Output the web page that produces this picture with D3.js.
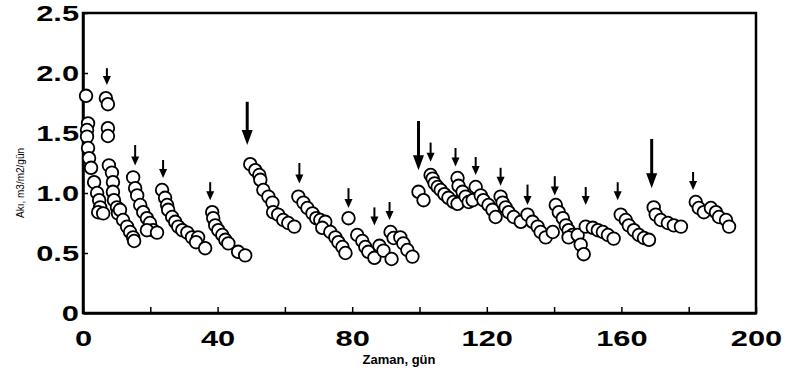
<!DOCTYPE html>
<html>
<head>
<meta charset="utf-8">
<script src="https://cdn.jsdelivr.net/npm/d3@7"></script>
<style>
  body { margin: 0; background: #fff; }
  svg { display: block; }
</style>
</head>
<body>
<div id="vis"></div>
<script>
const FRAME_WIDTH = 789;
const FRAME_HEIGHT = 372;
const MARGINS = {left: 83, right: 33, top: 13, bottom: 59};

// measured points, day vs flux
const days = [
  0.9, 1.5, 1.2, 1.2, 1.5, 1.8, 2.4, 3.3, 4.2, 4.8, 5.1, 4.5, 6.0,
  6.8, 7.4, 7.4, 7.4, 7.7, 8.6, 8.9, 8.9, 9.2, 10.1, 10.4, 11.0, 11.9, 13.1, 14.0, 14.9, 15.2,
  14.9, 15.5, 16.1, 17.0, 17.9, 19.0, 19.9, 20.8, 19.0, 22.0,
  23.5, 24.4, 25.0, 25.3, 26.5, 27.4, 28.3, 29.5, 31.0, 32.4, 34.2, 33.6, 36.3,
  38.4, 38.7, 39.3, 40.2, 41.4, 42.3, 43.2, 46.1, 48.2,
  49.7, 51.2, 52.4, 52.7, 53.6, 55.1, 56.3, 56.5, 58.0, 59.5, 61.0, 62.8,
  64.0, 65.5, 66.7, 68.2, 69.3, 70.5, 72.0, 71.1, 73.5, 75.0, 75.9, 77.1, 78.0,
  78.9, 81.5, 83.0, 83.9, 84.8, 86.6, 88.1, 89.3, 91.7, 91.4, 92.3, 94.3, 95.2, 96.4, 97.9,
  99.7, 101.2,
  103.3, 103.9, 104.5, 105.4, 106.3, 107.4, 108.6, 110.1, 111.3,
  111.3, 111.6, 112.8, 113.7, 114.6, 115.8,
  116.7, 118.2, 119.0, 120.5, 121.7, 122.6,
  124.1, 124.7, 125.6, 126.5, 128.0, 130.1,
  132.1, 133.6, 135.1, 136.0, 137.5, 139.6,
  140.5, 141.4, 142.6, 143.5, 144.3, 145.5, 144.3, 147.0, 147.9, 148.8,
  149.4, 151.5, 153.0, 154.5, 156.0, 157.7,
  159.8, 161.3, 162.2, 163.7, 165.2, 166.7, 168.2,
  169.6, 170.2, 171.7, 173.8, 175.6, 177.7,
  182.1, 183.0, 184.5, 186.6, 188.1, 189.0, 191.1, 192.0
];
const flux = [
  1.81, 1.58, 1.525, 1.47, 1.375, 1.29, 1.21, 1.09, 1.0, 0.94, 0.88, 0.84, 0.83,
  1.79, 1.74, 1.54, 1.475, 1.23, 1.17, 1.09, 1.01, 0.94, 0.88, 0.83, 0.86, 0.775, 0.72, 0.675, 0.63, 0.6,
  1.13, 1.04, 0.98, 0.9, 0.84, 0.79, 0.75, 0.69, 0.69, 0.67,
  1.025, 0.96, 0.9, 0.86, 0.8, 0.76, 0.72, 0.69, 0.67, 0.63, 0.63, 0.59, 0.54,
  0.84, 0.79, 0.73, 0.69, 0.65, 0.61, 0.58, 0.51, 0.48,
  1.24, 1.19, 1.15, 1.11, 1.025, 0.97, 0.92, 0.84, 0.82, 0.775, 0.75, 0.72,
  0.97, 0.92, 0.875, 0.83, 0.79, 0.775, 0.76, 0.71, 0.675, 0.63, 0.59, 0.55, 0.5,
  0.79, 0.65, 0.6, 0.55, 0.51, 0.46, 0.56, 0.52, 0.45, 0.675, 0.625, 0.63, 0.58, 0.525, 0.47,
  1.01, 0.94,
  1.15, 1.12, 1.08, 1.05, 1.025, 0.99, 0.96, 0.925, 0.91,
  1.125, 1.06, 1.01, 0.97, 0.925, 0.94,
  1.05, 0.98, 0.94, 0.9, 0.86, 0.8,
  0.97, 0.92, 0.88, 0.84, 0.8, 0.76,
  0.82, 0.76, 0.72, 0.675, 0.63, 0.675,
  0.9, 0.84, 0.79, 0.73, 0.69, 0.65, 0.63, 0.65, 0.57, 0.49,
  0.72, 0.71, 0.69, 0.675, 0.65, 0.62,
  0.82, 0.775, 0.73, 0.69, 0.65, 0.625, 0.61,
  0.88, 0.82, 0.775, 0.75, 0.73, 0.72,
  0.925, 0.875, 0.84, 0.875, 0.84, 0.8, 0.775, 0.72
];

// cleaning events (arrows): day, flux at arrow tail, flux at arrow tip
const arrowDays = [7.1, 15.5, 23.8, 37.8, 48.8, 64.3, 78.9, 86.6, 91.1, 99.7,
                   103.3, 110.7, 116.7, 124.1, 132.1, 140.2, 149.4, 158.9, 169.0, 181.3];
const arrowTail = [2.04, 1.40, 1.275, 1.09, 1.76, 1.25, 1.04, 0.88, 0.925, 1.60,
                   1.42, 1.375, 1.30, 1.21, 1.07, 1.14, 1.05, 1.09, 1.45, 1.175];
const arrowTip  = [1.90, 1.23, 1.125, 0.94, 1.40, 1.08, 0.875, 0.73, 0.775, 1.19,
                   1.26, 1.22, 1.15, 1.06, 0.90, 0.98, 0.90, 0.94, 1.04, 1.025];
const majorDays = [48.8, 99.7, 169.0];

const xTicks = [0, 20, 40, 60, 80, 100, 120, 140, 160, 180, 200];
const xLabels = [0, 40, 80, 120, 160, 200];
const yTicks = [0, 0.5, 1.0, 1.5, 2.0, 2.5];

const FRAME1 = d3.select("#vis")
  .append("svg")
    .attr("width", FRAME_WIDTH)
    .attr("height", FRAME_HEIGHT);

const X_SCALE = d3.scaleLinear()
  .domain([0, 200])
  .range([MARGINS.left, FRAME_WIDTH - MARGINS.right]);
const Y_SCALE = d3.scaleLinear()
  .domain([0, 2.5])
  .range([FRAME_HEIGHT - MARGINS.bottom, MARGINS.top]);

const STRETCH = 1.4;

// box top and right
FRAME1.append("rect")
  .attr("x", X_SCALE(0))
  .attr("y", Y_SCALE(2.5))
  .attr("width", X_SCALE(200) - X_SCALE(0))
  .attr("height", Y_SCALE(0) - Y_SCALE(2.5))
  .attr("fill", "none")
  .attr("stroke", "#000")
  .attr("stroke-width", 2.5);

// x axis
const xAxis = FRAME1.append("g")
  .attr("transform", "translate(0," + Y_SCALE(0) + ")")
  .call(d3.axisBottom(X_SCALE)
    .tickValues(xTicks)
    .tickSizeInner(-6)
    .tickSizeOuter(0)
    .tickPadding(17)
    .tickFormat(d => xLabels.includes(d) ? d : ""));
xAxis.select(".domain").attr("stroke-width", 2.5);
xAxis.selectAll(".tick line").attr("stroke-width", 1.5);
xAxis.selectAll(".tick text")
  .attr("font-family", "'Liberation Sans', Arial, sans-serif")
  .attr("font-weight", "bold")
  .attr("font-size", 22)
  .attr("transform", "scale(" + STRETCH + ",1)");

// y axis
const yAxis = FRAME1.append("g")
  .attr("transform", "translate(" + X_SCALE(0) + ",0)")
  .call(d3.axisLeft(Y_SCALE)
    .tickValues(yTicks)
    .tickSizeInner(-5)
    .tickSizeOuter(0)
    .tickPadding(4 / STRETCH)
    .tickFormat(d => d === 0 ? "0" : d3.format(".1f")(d)));
yAxis.select(".domain").attr("stroke-width", 2.5);
yAxis.selectAll(".tick line").attr("stroke-width", 1.5);
yAxis.selectAll(".tick text")
  .attr("font-family", "'Liberation Sans', Arial, sans-serif")
  .attr("font-weight", "bold")
  .attr("font-size", 22)
  .attr("transform", "scale(" + STRETCH + ",1)");

// axis titles
FRAME1.append("text")
  .attr("x", 399)
  .attr("y", 364)
  .attr("text-anchor", "middle")
  .attr("font-family", "'Liberation Sans', Arial, sans-serif")
  .attr("font-weight", "bold")
  .attr("font-size", 13)
  .text("Zaman, gün");

FRAME1.append("text")
  .attr("transform", "translate(24,183) rotate(-90)")
  .attr("text-anchor", "middle")
  .attr("font-family", "'Liberation Sans', Arial, sans-serif")
  .attr("font-size", 10)
  .text("Akı, m3/m2/gün");

// arrows
const arrows = arrowDays.map((d, i) => ({day: d, tail: arrowTail[i], tip: arrowTip[i], major: majorDays.includes(d)}));

FRAME1.selectAll(".arrowShaft")
  .data(arrows)
  .enter()
  .append("line")
    .attr("x1", d => X_SCALE(d.day))
    .attr("x2", d => X_SCALE(d.day))
    .attr("y1", d => Y_SCALE(d.tail))
    .attr("y2", d => Y_SCALE(d.tip) - (d.major ? 10 : 6))
    .attr("stroke", "#000")
    .attr("stroke-width", d => d.major ? 3 : 2);

FRAME1.selectAll(".arrowHead")
  .data(arrows)
  .enter()
  .append("path")
    .attr("d", d => {
      const x = X_SCALE(d.day), y = Y_SCALE(d.tip);
      const w = d.major ? 5.5 : 4, h = d.major ? 15 : 9;
      return "M" + (x - w) + "," + (y - h) + "L" + (x + w) + "," + (y - h) + "L" + x + "," + y + "Z";
    })
    .attr("fill", "#000");

// points
FRAME1.selectAll(".point")
  .data(days.map((d, i) => [d, flux[i]]))
  .enter()
  .append("circle")
    .attr("cx", d => X_SCALE(d[0]))
    .attr("cy", d => Y_SCALE(d[1]))
    .attr("r", 6.3)
    .attr("fill", "#fff")
    .attr("stroke", "#000")
    .attr("stroke-width", 1.8);
</script>
</body>
</html>
